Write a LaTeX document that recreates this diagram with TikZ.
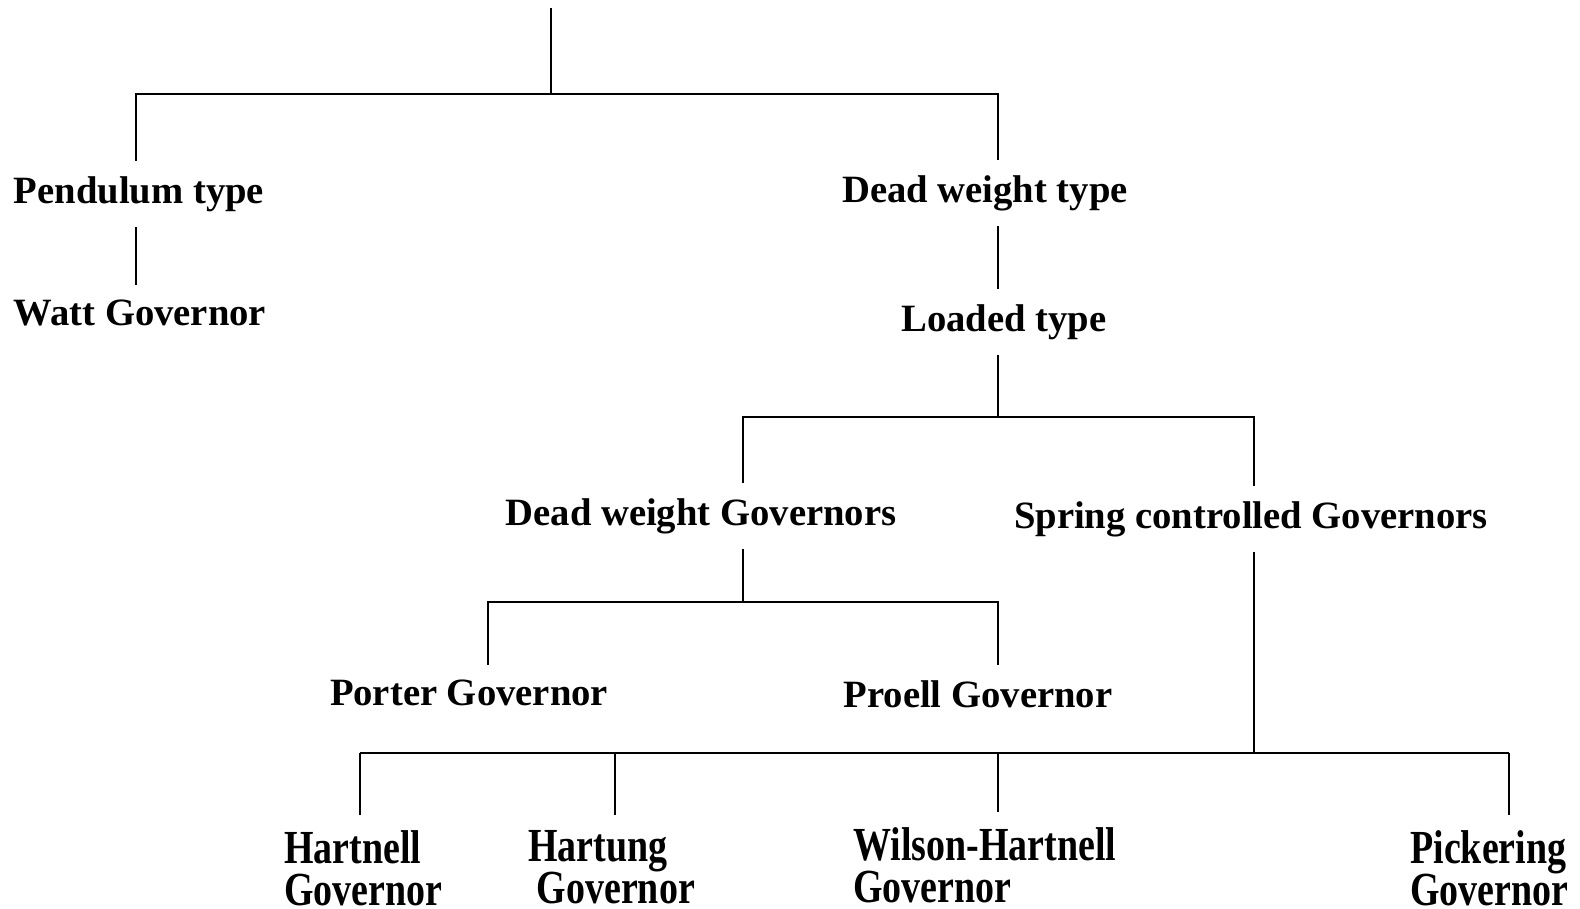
\documentclass[tikz,border=0pt]{standalone}
\usepackage{fontspec}
\usepackage{graphicx}
\setmainfont{Liberation Serif}
\newcommand{\govlabel}[2]{\scalebox{0.8}[1]{\vbox{\hbox{#1}\hbox{#2}}}}
\tikzset{
  kind/.style={inner sep=0.3cm, font=\fontsize{22}{26}\selectfont\bfseries},
  leaf/.style={anchor=north west, inner sep=0.3cm, font=\fontsize{27}{24.2}\selectfont\bfseries},
  branch/.style={line width=0.03cm}
}
\begin{document}
\begin{tikzpicture}[x=0.02cm,y=-0.02cm]
\useasboundingbox (0,0) rectangle (1580,909);

% Junction points
\coordinate (top) at (551,8);
\coordinate (j1) at (551,94);
\coordinate (j1l) at (136,94);
\coordinate (j1r) at (998,94);
\coordinate (j2) at (998,417);
\coordinate (j2l) at (743,417);
\coordinate (j2r) at (1254,417);
\coordinate (j3) at (743,602);
\coordinate (j3l) at (488,602);
\coordinate (j3r) at (998,602);
\coordinate (j4) at (1254,753);
\coordinate (j4a) at (360,753);
\coordinate (j4b) at (615,753);
\coordinate (j4c) at (998,753);
\coordinate (j4d) at (1509,753);

% Marking the kinds
\node [kind] (pend) at (139,194) {Pendulum type};%
\node [kind] (watt) at (140,313) {Watt Governor};%
\node [kind] (dwt) at (985,193) {Dead weight type};%
\node [kind] (load) at (1004,322) {Loaded type};%
\node [kind] (dwg) at (701,516) {Dead weight Governors};%
\node [kind] (scg) at (1251,519) {Spring controlled Governors};%
\node [kind] (porter) at (469,693) {Porter Governor};%
\node [kind] (proell) at (978,694) {Proell Governor};%

% Marking the spring controlled ones
\node [leaf] (hartnell) at (269,815) {\govlabel{Hartnell}{Governor}};%
\node [leaf] (hartung) at (513,815) {\govlabel{Hartung}{\kern6pt Governor}};%
\node [leaf] (wilson) at (838,812) {\govlabel{Wilson-Hartnell}{Governor}};%
\node [leaf] (pickering) at (1395,815) {\govlabel{Pickering}{Governor}};%

% Drawing branch top
\draw [branch] (top) -- (j1);%
\draw [branch] (pend.north -| j1l) -- (j1l) -- (j1r) -- (dwt.north -| j1r);%
\draw [branch] (pend.south -| j1l) -- (watt.north -| j1l);%
\draw [branch] (dwt.south -| j1r) -- (load.north -| j1r);%

% Drawing branch loaded
\draw [branch] (load.south -| j2) -- (j2);%
\draw [branch] (dwg.north -| j2l) -- (j2l) -- (j2r) -- (scg.north -| j2r);%

% Drawing branch dead weight
\draw [branch] (dwg.south -| j3) -- (j3);%
\draw [branch] (porter.north -| j3l) -- (j3l) -- (j3r) -- (proell.north -| j3r);%

% Drawing branch spring
\draw [branch] (scg.south -| j4) -- (j4);%
\draw [branch] (j4a) -- (j4d);%
\draw [branch] (j4a) -- (hartnell.north -| j4a);%
\draw [branch] (j4b) -- (hartung.north -| j4b);%
\draw [branch] (j4c) -- (wilson.north -| j4c);%
\draw [branch] (j4d) -- (pickering.north -| j4d);%
\end{tikzpicture}
\end{document}
